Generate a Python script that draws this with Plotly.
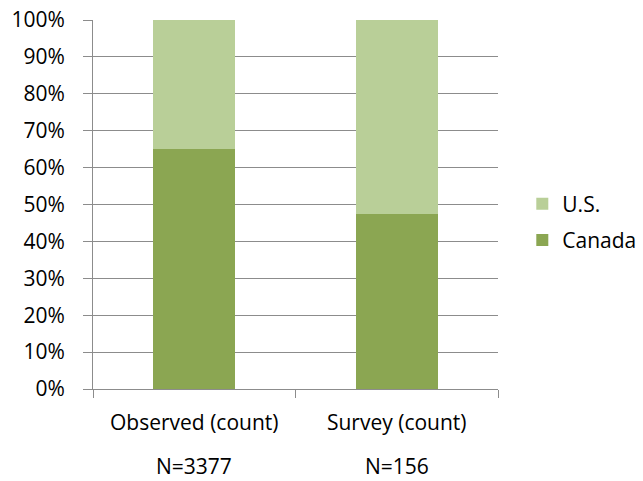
import plotly.graph_objects as go

categories = ["Observed (count)", "Survey (count)"]
sample_sizes = ["N=3377", "N=156"]
canada_share = [65.0, 47.4]
us_share = [35.0, 52.6]

canada_color = "#8BA652"
us_color = "#B9CF98"
axis_grey = "#8C8C8C"
font_family = "'Open Sans', sans-serif"
font_size = 21

fig = go.Figure()
fig.add_trace(go.Bar(name="Canada", x=categories, y=canada_share,
                     legendgroup="ca", legendrank=2,
                     marker=dict(color=canada_color, line=dict(width=0))))
fig.add_trace(go.Bar(name="U.S.", x=categories, y=us_share,
                     legendgroup="us", legendrank=1,
                     marker=dict(color=us_color, line=dict(width=0))))

# sample size printed beneath each category label
for cat, n in zip(categories, sample_sizes):
    fig.add_annotation(x=cat, xref="x", y=-0.209, yref="paper", text=n,
                       showarrow=False, yanchor="middle", xanchor="center",
                       font=dict(size=font_size))

fig.update_layout(
    barmode="stack",
    bargap=0.595,
    width=643, height=481,
    margin=dict(l=93, r=145, t=20, b=92, autoexpand=False),
    plot_bgcolor="white", paper_bgcolor="white",
    font=dict(family=font_family, size=font_size, color="black"),
    showlegend=True,
    legend=dict(traceorder="grouped", x=1.06, y=0.4526, yanchor="middle",
                xanchor="left", font=dict(size=font_size), itemwidth=30,
                tracegroupgap=6),
)
fig.update_xaxes(
    type="category", tickmode="array", tickvals=categories, ticktext=categories,
    tickson="boundaries", ticks="outside", ticklen=8, tickcolor=axis_grey,
    ticklabelstandoff=15,
    showline=True, linecolor=axis_grey, linewidth=1, showgrid=False,
)
fig.update_yaxes(
    range=[0, 100], tickvals=list(range(0, 101, 10)),
    ticktext=[f"{v}%" for v in range(0, 101, 10)],
    ticks="outside", ticklen=9, tickcolor=axis_grey, ticklabelstandoff=14,
    showline=True, linecolor=axis_grey, linewidth=1,
    showgrid=True, gridcolor=axis_grey, gridwidth=1, zeroline=False,
)

fig.write_html("out.html")
